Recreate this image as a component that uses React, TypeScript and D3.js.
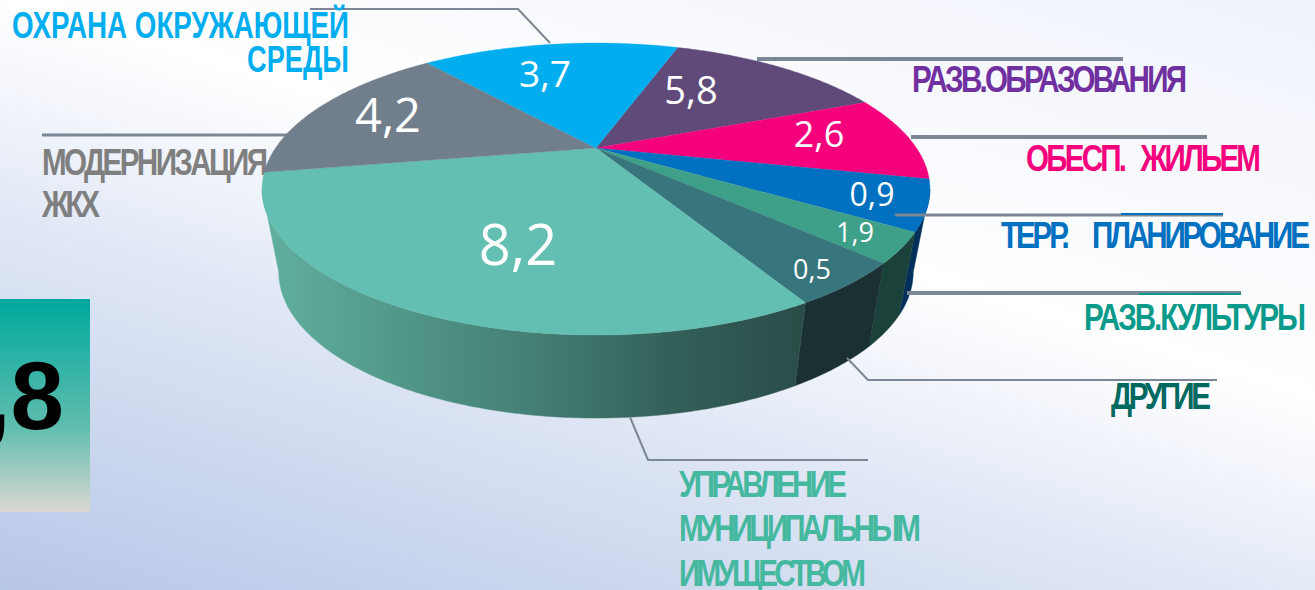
import React from "react";
import * as d3 from "d3";

// Printed values, clockwise from the 5,8 slice
const valueLabels = ["5,8", "2,6", "0,9", "1,9", "0,5", "8,2", "4,2", "3,7"];
// Angular width of every slice (degrees); the drawn pie is not proportional to its labels
const sliceSweeps = [49.3, 34.4, 19.7, 11.5, 16.7, 109.7, 60.1, 58.6];
const topColors = ["#5F4A7A", "#F5007D", "#0070C0", "#3FA08A", "#38767E", "#63BFB1", "#717F8C", "#00AEEF"];
const wallColors = ["#4a3a60", "#a00050", "#02305A", "#1B423A", "#1A3033", "url(#wall82)", "#55606a", "#0080b0"];
const totalLabel = "27,8";

const W = 1315, H = 590;
const cx = 596, cy = 148, R = 320.5, HY = 134.5, K = 0.281;
const DEPTH = 83, BOTTOM_SCALE = 0.95;
const START = (18.8 * Math.PI) / 180;
const TANGENT = Math.acos(-K);

const project = (a: number, bottom: boolean): [number, number] => {
  const u = Math.sin(a), v = -Math.cos(a);
  const s = 1 / (1 - K * v);
  return [
    cx + (bottom ? BOTTOM_SCALE : 1) * R * u * s,
    cy + (bottom ? DEPTH : 0) + HY * v * s,
  ];
};
const arcPts = (a0: number, a1: number, bottom: boolean) => {
  const n = Math.max(2, Math.ceil(Math.abs(a1 - a0) / 0.01));
  return d3.range(n + 1).map((i) => project(a0 + ((a1 - a0) * i) / n, bottom));
};
const line = d3.line();

const pieGen = d3.pie<number>().sort(null).value((d) => d).startAngle(START).endAngle(START + 2 * Math.PI);
const arcs = pieGen(sliceSweeps);

const valuePos = [
  { x: 691, y: 104, s: 38 },
  { x: 819, y: 147, s: 36 },
  { x: 872, y: 206, s: 32 },
  { x: 855, y: 242, s: 27 },
  { x: 812, y: 279, s: 27 },
  { x: 518, y: 265, s: 56 },
  { x: 388, y: 132, s: 47 },
  { x: 545, y: 87, s: 37 },
];

// sx: horizontal glyph squeeze; the rest of the width is taken up by tight letter spacing
const labelRows = [
  { t: "ОХРАНА ОКРУЖАЮЩЕЙ", x: 12, w: 337, y: 38, c: "#00AEEF", sx: 0 },
  { t: "СРЕДЫ", x: 247, w: 102, y: 72, c: "#00AEEF", sx: 0 },
  { t: "РАЗВ.ОБРАЗОВАНИЯ", x: 912, w: 275, y: 92, c: "#7030A0", sx: 0.8 },
  { t: "ОБЕСП.   ЖИЛЬЕМ", x: 1026, w: 235, y: 171, c: "#F5007D", sx: 0.8 },
  { t: "ТЕРР.     ПЛАНИРОВАНИЕ", x: 1001, w: 309, y: 248, c: "#0070C0", sx: 0.8 },
  { t: "РАЗВ.КУЛЬТУРЫ", x: 1084, w: 222, y: 330, c: "#0A9A8C", sx: 0.8 },
  { t: "ДРУГИЕ", x: 1111, w: 100, y: 409, c: "#00695F", sx: 0.8 },
  { t: "УПРАВЛЕНИЕ", x: 679, w: 168, y: 497, c: "#45B8A0", sx: 0.8 },
  { t: "МУНИЦИПАЛЬНЫМ", x: 679, w: 242, y: 541, c: "#45B8A0", sx: 0.8 },
  { t: "ИМУЩЕСТВОМ", x: 679, w: 187, y: 586, c: "#45B8A0", sx: 0.8 },
];
const underLabels = [
  { t: "МОДЕРНИЗАЦИЯ", x: 42, w: 226, y: 175, c: "#7F7F7F", sx: 0.8 },
  { t: "ЖКХ", x: 42, w: 58, y: 217, c: "#7F7F7F", sx: 0.8 },
];

const leaders: { p: [number, number][]; w: number; c: string }[] = [
  { p: [[310, 9], [518, 9], [550, 43]], w: 2, c: "#7B8794" },
  { p: [[757, 59], [1123, 59]], w: 4, c: "#7B8794" },
  { p: [[911, 137], [1207, 137]], w: 4, c: "#7B8794" },
  { p: [[895, 215], [1223, 215]], w: 3, c: "#7B8794" },
  { p: [[1121, 214], [1223, 214]], w: 2, c: "#0070C0" },
  { p: [[907, 293], [1241, 293]], w: 4, c: "#7B8794" },
  { p: [[1139, 294], [1241, 294]], w: 2, c: "#0A9A8C" },
  { p: [[847, 358], [868, 380], [1217, 380]], w: 2, c: "#7B8794" },
  { p: [[630, 417], [648, 460], [868, 460]], w: 2, c: "#7B8794" },
];
const underLeader: [number, number][] = [[42, 135], [290, 135]];

const LABEL_FONT = "'Liberation Sans', Arial, sans-serif";
const VALUE_FONT = "'Open Sans', sans-serif";

export default function App() {
  React.useEffect(() => {
    document.body.style.margin = "0";
  }, []);
  const row = (r: any, i: number) =>
    r.sx ? (
      <text key={i} transform={`translate(${r.x},${r.y}) scale(${r.sx},1)`} fill={r.c} fontFamily={LABEL_FONT}
        fontWeight="bold" fontSize={37} textLength={r.w / r.sx} lengthAdjust="spacing" xmlSpace="preserve">{r.t}</text>
    ) : (
      <text key={i} x={r.x} y={r.y} fill={r.c} fontFamily={LABEL_FONT} fontWeight="bold" fontSize={36}
        textLength={r.w} lengthAdjust="spacingAndGlyphs" xmlSpace="preserve">{r.t}</text>
    );
  return (
    <svg width={W} height={H} viewBox={`0 0 ${W} ${H}`} style={{ display: "block", position: "absolute", left: 0, top: 0 }}>
      <defs>
        <linearGradient id="bg" gradientUnits="userSpaceOnUse" x1={0} y1={590} x2={274} y2={-313}>
          <stop offset="0" stopColor="#B7C7E8" />
          <stop offset="0.35" stopColor="#DDE5F4" />
          <stop offset="0.6" stopColor="#FFFFFF" />
          <stop offset="1" stopColor="#EEF2FA" />
        </linearGradient>
        <linearGradient id="box" x1="0" y1="0" x2="0" y2="1">
          <stop offset="0" stopColor="#00A99D" />
          <stop offset="0.6" stopColor="#5FBDAE" />
          <stop offset="1" stopColor="#DAD9D2" />
        </linearGradient>
        <linearGradient id="wall82" gradientUnits="userSpaceOnUse" x1={265} y1={0} x2={800} y2={0}>
          <stop offset="0" stopColor="#60B09E" />
          <stop offset="0.5" stopColor="#447F75" />
          <stop offset="0.75" stopColor="#33615A" />
          <stop offset="1" stopColor="#2A4D48" />
        </linearGradient>
      </defs>
      <rect width={W} height={H} fill="url(#bg)" />

      <rect x={0} y={299} width={90} height={213} fill="url(#box)" />
      <text x={64} y={429} textAnchor="end" fontFamily={LABEL_FONT} fontWeight="bold" fontSize={96} fill="#000">{totalLabel}</text>

      {underLabels.map(row)}
      <path d={line(underLeader)!} stroke="#7B8794" strokeWidth={3} fill="none" />

      {arcs.map((a, i) => {
        const s = Math.max(a.startAngle, TANGENT);
        const e = Math.min(a.endAngle, 2 * Math.PI - TANGENT);
        if (e <= s) return null;
        const pts = [...arcPts(s, e, false), ...arcPts(e, s, true)];
        return <path key={i} d={line(pts)! + "Z"} fill={wallColors[i]} stroke={wallColors[i]} strokeWidth={0.4} />;
      })}

      {arcs.map((a, i) => (
        <path key={i} d={line([[cx, cy], ...arcPts(a.startAngle, a.endAngle, false)])! + "Z"}
          fill={topColors[i]} stroke={topColors[i]} strokeWidth={0.3} />
      ))}

      {valueLabels.map((t, i) => (
        <text key={i} x={valuePos[i].x} y={valuePos[i].y} textAnchor="middle" fill="#fff"
          fontFamily={VALUE_FONT} fontSize={valuePos[i].s}>{t}</text>
      ))}

      {leaders.map((l, i) => (
        <path key={i} d={line(l.p)!} stroke={l.c} strokeWidth={l.w} fill="none" />
      ))}
      {labelRows.map(row)}
    </svg>
  );
}
